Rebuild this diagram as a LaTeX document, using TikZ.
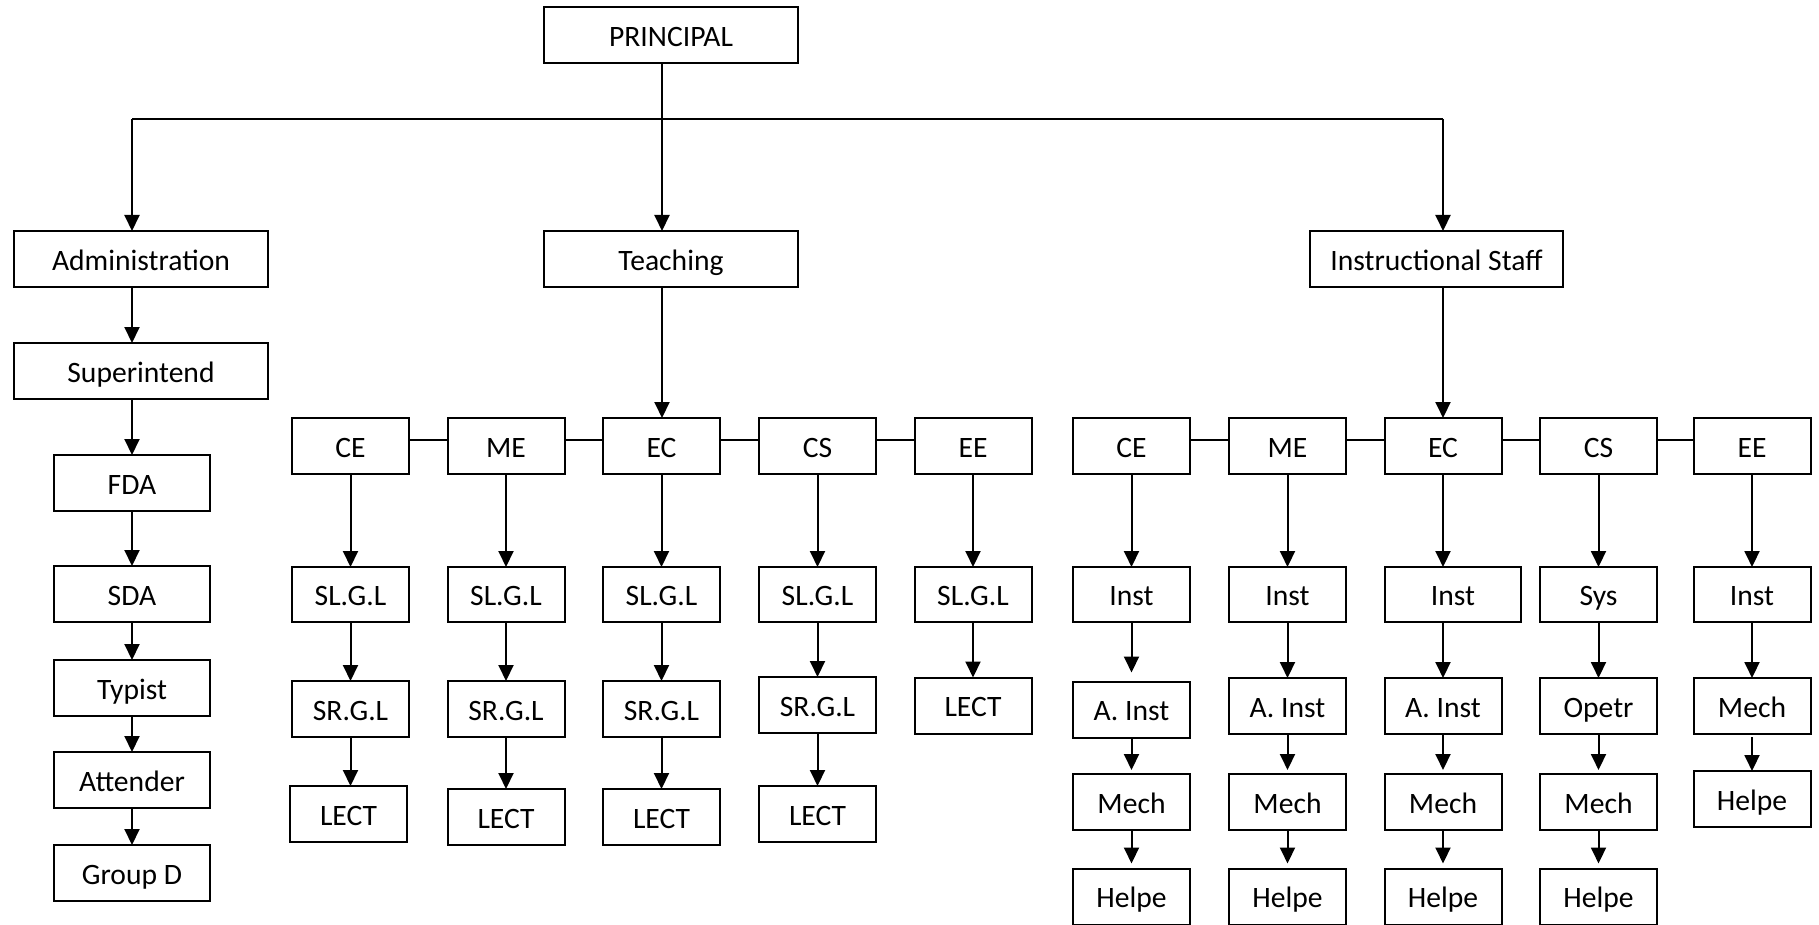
\documentclass[tikz,border=0pt]{standalone}
\usepackage{fontspec}
\setmainfont{Carlito}
\usetikzlibrary{arrows.meta}
\tikzset{
  bx/.style={draw, line width=1pt, inner sep=0pt, outer sep=0pt, minimum height=28pt,
    font=\fontsize{14.8}{17}\selectfont, text height=11.4pt, text depth=0pt},
  wA/.style={minimum width=127pt},
  wB/.style={minimum width=78pt},
  wC/.style={minimum width=58.5pt},
  arr/.style={-{Triangle[length=8pt,width=7.5pt]}, line width=1pt},
  ln/.style={line width=1pt}
}
\begin{document}
\begin{tikzpicture}[x=0.5pt,y=-0.5pt]
\useasboundingbox (0,0) rectangle (1819,925);
% top levels
\node[bx,wA] (P) at (671,35) {PRINCIPAL};
\node[bx,wA] (Adm) at (141,259) {Administration};
\node[bx,wA] (Tch) at (671,259) {Teaching};
\node[bx,minimum width=126.5pt] (Ins) at (1436.5,259) {Instructional Staff};
% administration column
\node[bx,wA] (Sup) at (141,371) {Superintend};
\node[bx,wB] (FDA) at (132,483) {FDA};
\node[bx,wB] (SDA) at (132,594) {SDA};
\node[bx,wB] (Typ) at (132,688) {Typist};
\node[bx,wB] (Att) at (132,780) {Attender};
\node[bx,wB] (GrD) at (132,873) {Group D};
% teaching departments
\node[bx,wC] (tCE) at (350.5,446) {CE};
\node[bx,wC] (tME) at (506,446) {ME};
\node[bx,wC] (tEC) at (661.5,446) {EC};
\node[bx,wC] (tCS) at (817.5,446) {CS};
\node[bx,wC] (tEE) at (973,446) {EE};
\node[bx,wC,minimum height=27.5pt] (sCE) at (350.5,594.5) {SL.G.L};
\node[bx,wC,minimum height=27.5pt] (sME) at (506,594.5) {SL.G.L};
\node[bx,wC,minimum height=27.5pt] (sEC) at (661.5,594.5) {SL.G.L};
\node[bx,wC,minimum height=27.5pt] (sCS) at (817.5,594.5) {SL.G.L};
\node[bx,wC,minimum height=27.5pt] (sEE) at (973,594.5) {SL.G.L};
\node[bx,wC] (rCE) at (350.5,709) {SR.G.L};
\node[bx,wC] (rME) at (506,709) {SR.G.L};
\node[bx,wC] (rEC) at (661.5,709) {SR.G.L};
\node[bx,wC] (rCS) at (817.5,705) {SR.G.L};
\node[bx,wC] (lEE) at (973,705.5) {LECT};
\node[bx,wC] (lCE) at (348.5,814) {LECT};
\node[bx,wC] (lME) at (506,817) {LECT};
\node[bx,wC] (lEC) at (661.5,817) {LECT};
\node[bx,wC] (lCS) at (817.5,814) {LECT};
% instructional departments
\node[bx,wC] (iCE) at (1131.5,446) {CE};
\node[bx,wC] (iME) at (1287.5,446) {ME};
\node[bx,wC] (iEC) at (1443,446) {EC};
\node[bx,wC] (iCS) at (1598.5,446) {CS};
\node[bx,wC] (iEE) at (1752,446) {EE};
\node[bx,wC,minimum height=27.5pt] (jCE) at (1131.5,594.5) {Inst};
\node[bx,wC,minimum height=27.5pt] (jME) at (1287.5,594.5) {Inst};
\node[bx,minimum width=68.25pt,minimum height=27.5pt] (jEC) at (1453,594.5) {Inst};
\node[bx,wC,minimum height=27.5pt] (jCS) at (1598.5,594.5) {Sys};
\node[bx,wC,minimum height=27.5pt] (jEE) at (1752,594.5) {Inst};
\node[bx,wC] (kCE) at (1131.5,709.5) {A. Inst};
\node[bx,wC] (kME) at (1287.5,706) {A. Inst};
\node[bx,wC] (kEC) at (1443,706) {A. Inst};
\node[bx,wC] (kCS) at (1598.5,706) {Opetr};
\node[bx,wC] (kEE) at (1752,706) {Mech};
\node[bx,wC] (mCE) at (1131.5,802) {Mech};
\node[bx,wC] (mME) at (1287.5,802) {Mech};
\node[bx,wC] (mEC) at (1443,802) {Mech};
\node[bx,wC] (mCS) at (1598.5,802) {Mech};
\node[bx,wC] (mEE) at (1752,799) {Helpe};
\node[bx,wC] (hCE) at (1131.5,896.5) {Helpe};
\node[bx,wC] (hME) at (1287.5,896.5) {Helpe};
\node[bx,wC] (hEC) at (1443,896.5) {Helpe};
\node[bx,wC] (hCS) at (1598.5,896.5) {Helpe};
% bus
\coordinate (busL) at (132,119);
\coordinate (busM) at (662,119);
\coordinate (busR) at (1443,119);
\draw[ln] (P.south -| busM) -- (busM);
\draw[ln] (busL) -- (busR);
\draw[arr] (busL) -- (busL |- Adm.north);
\draw[arr] (busM) -- (busM |- Tch.north);
\draw[arr] (busR) -- (busR |- Ins.north);
\draw[arr] (Tch.south -| busM) -- (tEC.north -| busM);
\draw[arr] (Ins.south -| iEC) -- (iEC.north);
% administration arrows
\draw[arr] (Adm.south -| FDA) -- (Sup.north -| FDA);
\draw[arr] (Sup.south -| FDA) -- (FDA.north);
\draw[arr] (FDA.south) -- (SDA.north);
\draw[arr] (SDA.south) -- (Typ.north);
\draw[arr] (Typ.south) -- (Att.north);
\draw[arr] (Att.south) -- (GrD.north);
% horizontal links
\draw[ln] ([yshift=3pt]tCE.east) -- ([yshift=3pt]tME.west);
\draw[ln] ([yshift=3pt]tME.east) -- ([yshift=3pt]tEC.west);
\draw[ln] ([yshift=3pt]tEC.east) -- ([yshift=3pt]tCS.west);
\draw[ln] ([yshift=3pt]tCS.east) -- ([yshift=3pt]tEE.west);
\draw[ln] ([yshift=3pt]iCE.east) -- ([yshift=3pt]iME.west);
\draw[ln] ([yshift=3pt]iME.east) -- ([yshift=3pt]iEC.west);
\draw[ln] ([yshift=3pt]iEC.east) -- ([yshift=3pt]iCS.west);
\draw[ln] ([yshift=3pt]iCS.east) -- ([yshift=3pt]iEE.west);
% teaching columns
\foreach \c in {CE,ME,EC,CS,EE} {
  \draw[arr] (t\c.south) -- (s\c.north -| t\c.south);
}
\foreach \c in {CE,ME,EC,CS} {
  \draw[arr] (s\c.south -| t\c.south) -- (r\c.north -| t\c.south);
  \draw[arr] (r\c.south -| t\c.south) -- (l\c.north -| t\c.south);
}
\draw[arr] (sEE.south -| tEE.south) -- (lEE.north -| tEE.south);
% instructional columns
\foreach \c in {CE,ME,EC,CS,EE} {
  \draw[arr] (i\c.south) -- (j\c.north -| i\c.south);
}
\draw[arr,shorten >=4.5pt] (jCE.south -| iCE.south) -- (kCE.north -| iCE.south);
\foreach \c in {ME,EC,CS,EE} {
  \draw[arr] (j\c.south -| i\c.south) -- (k\c.north -| i\c.south);
}
\foreach \c in {CE,ME,EC,CS} {
  \draw[arr,shorten >=2pt] (k\c.south -| i\c.south) -- (m\c.north -| i\c.south);
  \draw[arr,shorten >=2.5pt] (m\c.south -| i\c.south) -- (h\c.north -| i\c.south);
}
\draw[arr,shorten <=1.5pt] (kEE.south -| iEE.south) -- (mEE.north -| iEE.south);
\end{tikzpicture}
\end{document}
